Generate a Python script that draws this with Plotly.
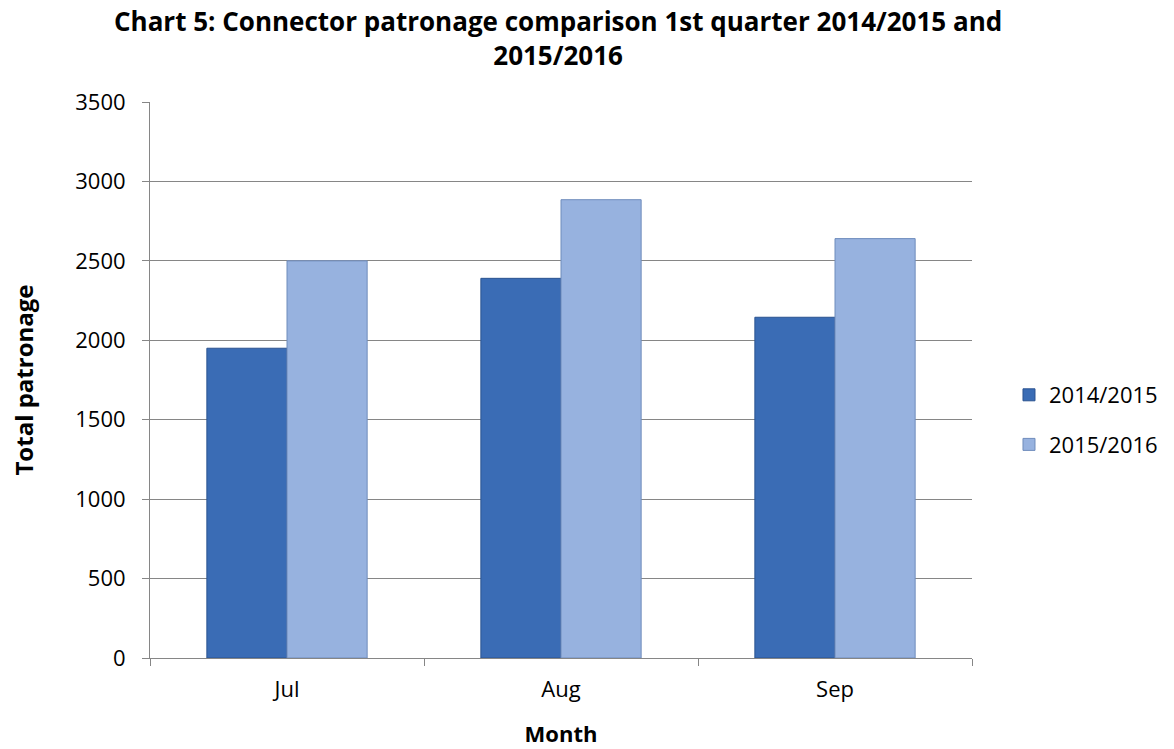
import plotly.graph_objects as go

months = ["Jul", "Aug", "Sep"]
patronage_2014_15 = [1950, 2390, 2145]
patronage_2015_16 = [2500, 2885, 2640]
y_ticks = [0, 500, 1000, 1500, 2000, 2500, 3000, 3500]
chart_title = "Chart 5: Connector patronage comparison 1st quarter 2014/2015 and<br>2015/2016"

FONT = "'Open Sans', Lato, sans-serif"

# plot area in pixels: top 102, bottom 658
PLOT_TOP, PLOT_BOTTOM = 102, 658


def paper_y(px):
    return (PLOT_BOTTOM - px) / (PLOT_BOTTOM - PLOT_TOP)


fig = go.Figure()
fig.add_trace(go.Bar(
    x=months, y=patronage_2014_15, name="2014/2015", legendgroup="a",
    marker=dict(color="#3a6cb5", line=dict(color="#2b5390", width=1)),
))
fig.add_trace(go.Bar(
    x=months, y=patronage_2015_16, name="2015/2016", legendgroup="b",
    marker=dict(color="#97b2df", line=dict(color="#6f8cbc", width=1)),
))

# Two-line bold heading above the plot area
fig.add_annotation(
    text=f"<b>{chart_title}</b>",
    xref="paper", yref="paper", x=0.496, y=paper_y(38),
    xanchor="center", yanchor="middle", showarrow=False,
    font=dict(family=FONT, size=26, color="black"), align="center",
)

fig.update_layout(
    width=1174, height=749,
    margin=dict(l=150, r=202, t=102, b=91, autoexpand=False),
    paper_bgcolor="white", plot_bgcolor="white",
    barmode="group", bargap=0.415, bargroupgap=0,
    font=dict(family=FONT, color="black", size=22),
    showlegend=True,
    legend=dict(
        x=1.045, xanchor="left", y=paper_y(420), yanchor="middle",
        font=dict(size=22), itemwidth=30, traceorder="grouped",
        tracegroupgap=18,
    ),
    xaxis=dict(
        showline=True, linecolor="#868686", linewidth=1,
        ticks="outside", ticklen=7, tickcolor="#868686",
        tickson="boundaries", ticklabelstandoff=12,
        tickfont=dict(size=22), automargin=False,
        title=dict(text="<b>Month</b>", font=dict(size=22), standoff=24),
    ),
    yaxis=dict(
        range=[0, 3500], tickvals=y_ticks,
        showline=True, linecolor="#868686", linewidth=1,
        ticks="outside", ticklen=7, tickcolor="#868686",
        showgrid=True, gridcolor="#868686", gridwidth=1,
        zeroline=False, ticklabelstandoff=12,
        tickfont=dict(size=22), automargin=False,
        title=dict(text="<b>Total patronage</b>", font=dict(size=24), standoff=34),
    ),
)

fig.write_html("out.html")
